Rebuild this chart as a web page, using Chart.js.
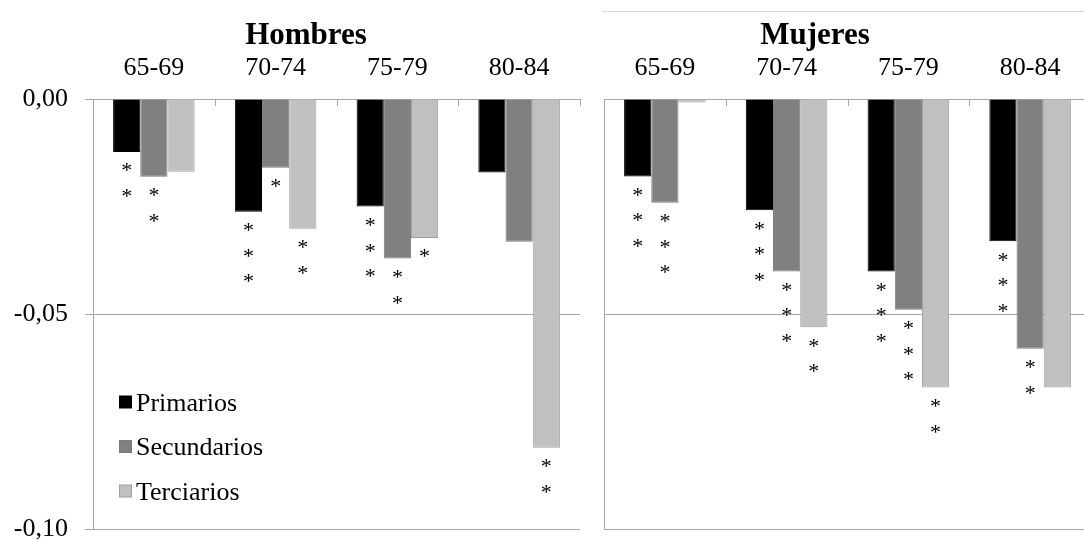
<!DOCTYPE html>
<html>
<head>
<meta charset="utf-8">
<script src="https://cdn.jsdelivr.net/npm/chart.js@4.4.1/dist/chart.umd.min.js"></script>
<style>
    html, body { margin: 0; padding: 0; background: #fff; overflow: hidden; width: 1084px; height: 541px; }
    canvas { position: absolute; top: 0; }
    #hombresChart { left: 0; }
    #mujeresChart { left: 584px; }
</style>
</head>
<body>
<canvas id="hombresChart" width="590" height="541"></canvas>
<canvas id="mujeresChart" width="520" height="541"></canvas>
<script>
// Data
const ageGroups = ['65-69', '70-74', '75-79', '80-84'];
const seriesNames = ['Primarios', 'Secundarios', 'Terciarios'];
const yTickValues = [-0.10, -0.05, 0];
const yTickLabels = ['-0,10', '-0,05', '0,00'];

const hombresPrimarios = [-0.0123, -0.0262, -0.0250, -0.0171];
const hombresSecundarios = [-0.0181, -0.0160, -0.0371, -0.0332];
const hombresTerciarios = [-0.0169, -0.0302, -0.0323, -0.0811];

const mujeresPrimarios = [-0.0180, -0.0259, -0.0401, -0.0331];
const mujeresSecundarios = [-0.0241, -0.0401, -0.0490, -0.0581];
const mujeresTerciarios = [-0.0008, -0.0531, -0.0671, -0.0671];

// number of significance asterisks under each bar (per series)
const hombresStars = [[2, 3, 3, 0], [2, 1, 2, 0], [0, 2, 1, 2]];
const mujeresStars = [[3, 3, 3, 3], [3, 3, 3, 2], [0, 2, 2, 0]];

const fillColors = ['#000000', '#808080', '#c0c0c0'];
const borderColors = ['#000000', '#7a7a7a', '#a0a0a0'];
const axisColor = '#a6a6a6';
const serif = '"Liberation Serif", "Times New Roman", serif';

Chart.defaults.font.family = serif;
Chart.defaults.color = '#000';

const titlePlugin = {
    id: 'panelTitle',
    afterDraw(chart, args, opts) {
        const ctx = chart.ctx;
        ctx.save();
        ctx.font = 'bold 31px ' + serif;
        ctx.fillStyle = '#000';
        ctx.textAlign = 'center';
        ctx.textBaseline = 'alphabetic';
        ctx.fillText(opts.text, opts.x, opts.y);
        if (opts.topLine) {
            ctx.strokeStyle = '#d9d9d9';
            ctx.lineWidth = 1;
            ctx.beginPath();
            ctx.moveTo(opts.topLine, 11.5);
            ctx.lineTo(chart.width, 11.5);
            ctx.stroke();
        }
        ctx.restore();
    }
};

// small tick marks pointing down from the category axis
const innerTicksPlugin = {
    id: 'innerTicks',
    afterDraw(chart) {
        const area = chart.chartArea;
        const n = ageGroups.length;
        const step = (area.right - area.left) / n;
        const ctx = chart.ctx;
        ctx.save();
        ctx.strokeStyle = axisColor;
        ctx.lineWidth = 1;
        ctx.beginPath();
        for (let i = 1; i <= n; i++) {
            const x = Math.round(area.left + i * step) + 0.5;
            ctx.moveTo(x, area.top);
            ctx.lineTo(x, area.top + 7);
        }
        ctx.stroke();
        ctx.restore();
    }
};

const starsPlugin = {
    id: 'stars',
    afterDatasetsDraw(chart, args, opts) {
        const ctx = chart.ctx;
        ctx.save();
        ctx.font = '22px ' + serif;
        ctx.fillStyle = '#000';
        ctx.textAlign = 'center';
        ctx.textBaseline = 'alphabetic';
        opts.counts.forEach((row, di) => {
            const meta = chart.getDatasetMeta(di);
            row.forEach((n, i) => {
                const bar = meta.data[i];
                for (let k = 0; k < n; k++) {
                    const cy = bar.y + 15 + k * 25.5;
                    ctx.fillText('*', bar.x, cy + 10.5);
                }
            });
        });
        ctx.restore();
    }
};

const legendPlugin = {
    id: 'boxLegend',
    afterDraw(chart, args, opts) {
        if (!opts.show) return;
        const ctx = chart.ctx;
        ctx.save();
        ctx.font = '26px ' + serif;
        ctx.textBaseline = 'alphabetic';
        ctx.textAlign = 'left';
        seriesNames.forEach((name, i) => {
            const cy = 402 + i * 44.5;
            ctx.fillStyle = fillColors[i];
            ctx.fillRect(119.5, cy - 6, 12, 12);
            ctx.strokeStyle = borderColors[i];
            ctx.lineWidth = 1;
            ctx.strokeRect(119.5, cy - 6, 12, 12);
            ctx.fillStyle = '#000';
            ctx.fillText(name, 136, cy + 8.5);
        });
        ctx.restore();
    }
};

function makePanel(canvasId, values, stars, opts) {
    const ctx = document.getElementById(canvasId).getContext('2d');
    return new Chart(ctx, {
        type: 'bar',
        data: {
            labels: ageGroups,
            datasets: seriesNames.map((name, i) => ({
                label: name,
                data: values[i],
                backgroundColor: fillColors[i],
                borderColor: borderColors[i],
                borderWidth: 1,
                borderSkipped: 'start',
                categoryPercentage: 0.67,
                barPercentage: 1.0
            }))
        },
        options: {
            responsive: false,
            animation: false,
            devicePixelRatio: 1,
            layout: { padding: { top: 49, bottom: 12, left: 0, right: opts.padRight } },
            plugins: {
                legend: { display: false },
                tooltip: { enabled: false },
                panelTitle: { text: opts.title, x: opts.titleX, y: 44, topLine: opts.topLine },
                stars: { counts: stars },
                boxLegend: { show: opts.showLegend }
            },
            scales: {
                x: {
                    position: 'top',
                    grid: { drawOnChartArea: false, drawTicks: false },
                    border: { color: axisColor, width: 1 },
                    ticks: { font: { size: 26 }, color: '#000', padding: 15 },
                    afterFit(scale) { scale.height = 50; }
                },
                y: {
                    min: -0.10,
                    max: 0,
                    afterBuildTicks(scale) {
                        scale.ticks = yTickValues.map(v => ({ value: v }));
                    },
                    grid: { color: axisColor, tickLength: opts.tickLength, drawTicks: opts.showYLabels },
                    border: { color: axisColor, width: 1 },
                    ticks: {
                        display: opts.showYLabels,
                        font: { size: 26 },
                        color: '#000',
                        padding: 17,
                        callback: (value, index) => yTickLabels[index]
                    },
                    afterFit(scale) {
                        scale.width = opts.yWidth;
                        scale.paddingTop = 0;
                        scale.paddingBottom = 0;
                    }
                }
            }
        },
        plugins: [titlePlugin, innerTicksPlugin, starsPlugin, legendPlugin]
    });
}

makePanel('hombresChart',
    [hombresPrimarios, hombresSecundarios, hombresTerciarios],
    hombresStars,
    { title: 'Hombres', titleX: 306, padRight: 10, yWidth: 93, showYLabels: true, tickLength: 8, showLegend: true, topLine: 0 });

makePanel('mujeresChart',
    [mujeresPrimarios, mujeresSecundarios, mujeresTerciarios],
    mujeresStars,
    { title: 'Mujeres', titleX: 231, padRight: 13, yWidth: 20, showYLabels: false, tickLength: 0, showLegend: false, topLine: 18 });
</script>
</body>
</html>
